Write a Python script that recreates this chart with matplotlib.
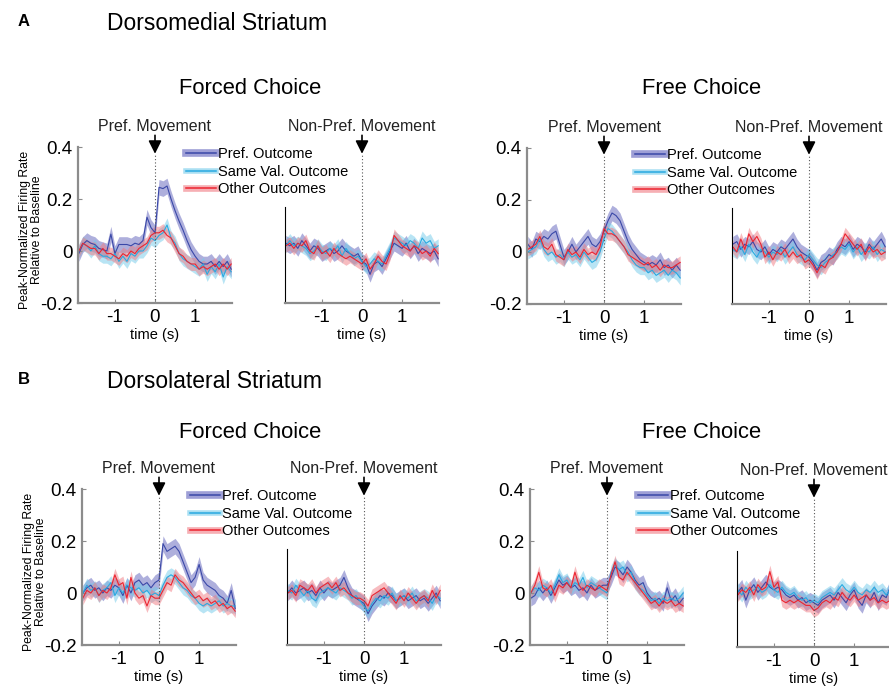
import numpy as np
import matplotlib
matplotlib.use("Agg")
import matplotlib.pyplot as plt
from matplotlib.lines import Line2D

plt.rcParams["font.family"] = ["Liberation Sans", "DejaVu Sans"]

# time bins (s) relative to movement onset
time_s = [-1.9, -1.8, -1.7, -1.6, -1.5, -1.4, -1.3, -1.2, -1.1, -1.0,
          -0.9, -0.8, -0.7, -0.6, -0.5, -0.4, -0.3, -0.2, -0.1, 0.0,
          0.1, 0.2, 0.3, 0.4, 0.5, 0.6, 0.7, 0.8, 0.9, 1.0,
          1.1, 1.2, 1.3, 1.4, 1.5, 1.6, 1.7, 1.8, 1.9]

series_names = ["Pref. Outcome", "Same Val. Outcome", "Other Outcomes"]
line_colors = ["#3a48a8", "#29a9e0", "#ec2430"]
band_colors = ["#5e60bb", "#72cbea", "#f07a82"]
band_sem = [0.03, 0.027, 0.025]
legend_band_lw = [5.5, 4.0, 4.8]

# A - dorsomedial striatum, forced choice, preferred movement
dms_forced_pref_po = [-0.01, 0.025, 0.04, 0.03, 0.025, 0.01, 0.005, 0.0, 0.065, -0.01,
                      0.025, 0.025, 0.025, 0.02, 0.03, 0.025, 0.04, 0.13, 0.09, 0.07,
                      0.245, 0.24, 0.25, 0.2, 0.155, 0.115, 0.08, 0.04, 0.005, -0.02,
                      -0.04, -0.05, -0.05, -0.04, -0.06, -0.04, -0.06, -0.04, -0.07]
dms_forced_pref_sv = [0.0, 0.03, 0.02, 0.0, 0.02, -0.01, -0.02, -0.02, -0.03, -0.01,
                      -0.04, -0.02, -0.04, -0.01, -0.02, 0.0, 0.0, 0.02, 0.05, 0.04,
                      0.06, 0.07, 0.1, 0.05, 0.03, -0.01, -0.03, -0.04, -0.05, -0.06,
                      -0.07, -0.05, -0.09, -0.06, -0.08, -0.05, -0.1, -0.06, -0.08]
dms_forced_pref_oo = [0.0, 0.03, 0.02, 0.01, 0.01, -0.01, 0.01, -0.01, -0.01, -0.02,
                      -0.03, -0.01, -0.02, 0.0, -0.01, 0.01, 0.02, 0.03, 0.06, 0.07,
                      0.07, 0.08, 0.06, 0.05, 0.02, -0.01, -0.02, -0.04, -0.05, -0.05,
                      -0.07, -0.06, -0.07, -0.06, -0.05, -0.07, -0.05, -0.07, -0.05]

# A - forced choice, non-preferred movement
dms_forced_np_po = [0.03, 0.02, 0.03, 0.01, 0.04, 0.02, 0.0, 0.02, 0.01, -0.01,
                    0.0, 0.01, -0.01, 0.0, 0.02, 0.0, -0.01, -0.02, -0.01, -0.04,
                    -0.05, -0.09, -0.05, -0.04, -0.06, -0.03, 0.0, 0.03, 0.02, 0.01,
                    0.03, 0.0, 0.02, -0.01, 0.01, 0.0, -0.01, 0.0, -0.03]
dms_forced_np_sv = [0.02, 0.04, 0.02, 0.03, 0.02, 0.01, -0.01, 0.0, 0.02, 0.0,
                    -0.01, 0.01, 0.0, 0.02, -0.02, 0.01, -0.01, -0.03, -0.02, -0.04,
                    -0.06, -0.05, -0.03, -0.04, -0.05, -0.02, 0.01, 0.05, 0.04, 0.03,
                    0.02, 0.04, 0.03, 0.01, 0.05, 0.03, 0.04, 0.01, 0.02]
dms_forced_np_oo = [0.02, 0.03, 0.01, 0.03, 0.02, 0.04, 0.0, -0.01, 0.02, -0.01,
                    0.0, -0.02, 0.01, -0.01, -0.02, -0.03, -0.02, -0.03, -0.04, -0.05,
                    -0.03, -0.07, -0.05, -0.02, -0.04, -0.05, -0.01, 0.06, 0.04, 0.02,
                    0.01, 0.0, 0.02, 0.01, -0.01, 0.0, -0.02, 0.01, -0.01]

# A - free choice, preferred movement
dms_free_pref_po = [0.03, 0.01, 0.05, 0.04, 0.06, 0.05, 0.07, 0.08, 0.03, -0.02,
                    0.0, 0.03, 0.0, 0.02, 0.04, 0.06, 0.03, 0.02, 0.04, 0.08,
                    0.12, 0.15, 0.14, 0.12, 0.08, 0.04, 0.01, -0.01, -0.03, -0.04,
                    -0.05, -0.04, -0.05, -0.03, -0.06, -0.05, -0.07, -0.05, -0.07]
dms_free_pref_sv = [0.0, 0.01, 0.02, 0.05, 0.01, -0.01, 0.0, -0.02, -0.01, -0.03,
                    0.0, -0.02, -0.01, -0.03, 0.0, -0.02, -0.04, -0.03, 0.0, 0.05,
                    0.09, 0.08, 0.06, 0.04, 0.02, 0.0, -0.03, -0.05, -0.06, -0.06,
                    -0.08, -0.07, -0.09, -0.08, -0.07, -0.09, -0.07, -0.08, -0.1]
dms_free_pref_oo = [0.01, 0.02, 0.03, 0.06, 0.02, 0.01, 0.03, -0.01, -0.02, -0.03,
                    0.01, -0.01, 0.0, -0.02, 0.01, -0.01, 0.0, -0.01, 0.02, 0.09,
                    0.07, 0.07, 0.06, 0.04, 0.02, -0.01, -0.02, -0.03, -0.04, -0.05,
                    -0.04, -0.06, -0.05, -0.07, -0.05, -0.06, -0.06, -0.05, -0.04]

# A - free choice, non-preferred movement
dms_free_np_po = [0.03, 0.04, 0.01, 0.03, 0.02, 0.04, 0.01, 0.0, 0.02, -0.01,
                  0.01, 0.0, 0.02, 0.01, 0.03, 0.05, 0.02, 0.0, -0.01, -0.02,
                  -0.04, -0.07, -0.04, -0.03, -0.01, -0.02, 0.01, 0.03, 0.02, 0.04,
                  0.01, 0.03, 0.02, 0.0, 0.03, 0.01, 0.03, 0.05, 0.02]
dms_free_np_sv = [0.01, 0.0, 0.02, -0.01, 0.03, 0.0, -0.02, 0.01, 0.0, -0.02,
                  0.0, -0.01, 0.01, -0.02, 0.0, 0.02, -0.01, -0.02, -0.03, -0.01,
                  -0.03, -0.05, -0.06, -0.04, -0.03, -0.01, 0.0, 0.02, 0.01, 0.03,
                  0.0, 0.02, -0.01, 0.01, 0.0, 0.02, -0.01, 0.01, 0.0]
dms_free_np_oo = [0.02, 0.0, 0.05, 0.01, 0.07, 0.04, 0.06, 0.03, -0.02, 0.0,
                  -0.03, 0.0, -0.01, 0.01, -0.02, 0.0, -0.02, -0.01, -0.04, -0.03,
                  -0.05, -0.08, -0.05, -0.06, -0.03, -0.02, 0.0, 0.03, 0.07, 0.05,
                  0.03, 0.01, 0.03, -0.01, 0.02, 0.0, 0.01, -0.01, 0.0]

# B - dorsolateral striatum, forced choice, preferred movement
dls_forced_pref_po = [0.0, 0.02, 0.03, 0.01, 0.02, 0.0, 0.02, 0.01, 0.03, 0.02,
                      -0.01, 0.03, 0.0, 0.04, 0.05, 0.03, 0.04, 0.02, 0.04, 0.05,
                      0.19, 0.16, 0.17, 0.18, 0.16, 0.12, 0.08, 0.04, 0.06, 0.11,
                      0.05, 0.03, 0.02, 0.01, -0.01, -0.02, -0.04, 0.01, -0.06]
dls_forced_pref_sv = [0.0, 0.03, 0.01, 0.02, -0.01, 0.01, 0.02, 0.04, -0.01, 0.02,
                      0.0, 0.03, 0.02, 0.01, 0.02, 0.0, 0.01, -0.01, 0.0, -0.01,
                      0.03, 0.06, 0.07, 0.06, 0.04, 0.02, 0.01, -0.01, -0.02, -0.04,
                      -0.05, -0.04, -0.05, -0.04, -0.03, -0.05, -0.04, -0.05, -0.05]
dls_forced_pref_oo = [-0.02, 0.01, 0.0, 0.02, -0.01, 0.01, 0.0, 0.02, 0.07, 0.03,
                      0.04, -0.02, 0.06, 0.0, -0.02, -0.01, -0.05, -0.01, -0.02, -0.02,
                      0.01, 0.04, 0.03, 0.07, 0.05, 0.04, 0.02, 0.0, -0.02, -0.01,
                      -0.03, -0.02, -0.04, -0.03, -0.05, -0.04, -0.06, -0.05, -0.07]

# B - forced choice, non-preferred movement
dls_forced_np_po = [0.0, 0.02, 0.0, 0.01, 0.02, 0.0, 0.01, -0.01, 0.02, 0.0,
                    0.02, 0.01, 0.02, 0.03, 0.06, 0.02, -0.01, -0.02, -0.03, -0.04,
                    -0.08, -0.05, -0.03, -0.01, -0.02, 0.0, -0.01, -0.03, -0.02, -0.01,
                    -0.03, -0.02, -0.01, -0.03, -0.02, -0.04, -0.02, 0.0, -0.03]
dls_forced_np_sv = [0.01, 0.0, 0.03, 0.01, -0.01, 0.01, -0.02, -0.03, 0.0, 0.01,
                    0.02, 0.01, 0.0, 0.02, 0.01, 0.0, -0.02, -0.01, -0.03, -0.05,
                    -0.07, -0.04, -0.02, -0.03, -0.01, -0.02, 0.0, -0.03, -0.02, -0.01,
                    -0.02, 0.0, -0.03, -0.02, -0.01, -0.02, -0.04, -0.01, -0.02]
dls_forced_np_oo = [0.0, 0.01, -0.01, 0.03, 0.02, 0.01, 0.03, 0.0, 0.02, 0.03,
                    0.04, 0.02, 0.04, 0.01, 0.02, 0.0, -0.01, -0.02, -0.02, -0.03,
                    -0.05, -0.01, 0.0, 0.01, 0.02, 0.0, -0.02, -0.04, -0.01, -0.03,
                    0.0, -0.02, -0.04, -0.02, -0.01, -0.03, 0.01, -0.02, 0.01]

# B - free choice, preferred movement
dls_free_pref_po = [-0.02, -0.01, 0.02, 0.0, 0.02, -0.01, 0.02, 0.05, 0.03, 0.04,
                    0.02, 0.03, 0.01, 0.02, 0.0, 0.03, 0.01, 0.02, 0.03, 0.03,
                    0.06, 0.1, 0.09, 0.07, 0.1, 0.08, 0.05, 0.03, 0.04, 0.0,
                    -0.02, -0.03, -0.02, -0.04, 0.02, -0.03, -0.01, -0.04, -0.02]
dls_free_pref_sv = [0.0, 0.02, 0.01, 0.03, 0.02, 0.0, 0.03, 0.07, 0.04, 0.05,
                    0.02, 0.04, 0.03, 0.06, 0.02, 0.04, 0.03, 0.02, 0.01, 0.0,
                    0.08, 0.11, 0.09, 0.1, 0.07, 0.08, 0.04, 0.02, 0.01, -0.01,
                    -0.03, -0.02, -0.04, -0.02, -0.03, -0.02, -0.03, -0.02, 0.0]
dls_free_pref_oo = [0.0, 0.03, 0.08, 0.02, 0.01, 0.03, -0.01, 0.03, 0.02, 0.04,
                    0.02, 0.08, 0.03, 0.01, 0.03, 0.02, 0.01, 0.03, 0.02, 0.01,
                    0.07, 0.12, 0.06, 0.05, 0.08, 0.06, 0.04, 0.02, 0.0, -0.02,
                    -0.04, -0.03, -0.05, -0.03, -0.04, -0.03, -0.05, -0.04, -0.05]

# B - free choice, non-preferred movement
dls_free_np_po = [0.01, 0.03, -0.02, 0.02, 0.04, 0.01, 0.03, 0.05, 0.03, 0.02,
                  0.03, 0.02, 0.0, -0.01, 0.0, -0.02, -0.01, -0.03, -0.02, -0.03,
                  -0.04, -0.02, -0.01, 0.0, -0.02, 0.01, -0.01, -0.03, 0.0, 0.02,
                  -0.02, -0.04, 0.0, -0.02, 0.01, -0.03, 0.0, -0.01, 0.03]
dls_free_np_sv = [0.02, 0.0, 0.03, 0.01, 0.02, 0.03, 0.01, 0.02, 0.04, 0.02,
                  0.01, 0.03, 0.01, 0.0, 0.01, -0.01, -0.02, -0.01, -0.03, -0.02,
                  -0.03, -0.01, 0.0, 0.01, 0.0, 0.02, 0.04, 0.02, 0.01, 0.03,
                  0.01, 0.0, 0.02, 0.01, 0.03, 0.01, 0.02, 0.0, 0.02]
dls_free_np_oo = [0.0, 0.02, 0.01, 0.03, 0.0, 0.04, 0.02, 0.03, 0.09, 0.03,
                  0.05, -0.02, -0.03, -0.02, -0.03, -0.02, -0.03, -0.04, -0.04, -0.06,
                  -0.05, -0.03, -0.02, -0.03, -0.01, -0.02, 0.01, -0.01, -0.02, 0.0,
                  -0.02, -0.01, 0.0, -0.02, -0.01, -0.03, -0.02, -0.03, -0.02]

y_ticks = [-0.2, 0, 0.2, 0.4]
y_tick_labels = ["-0.2", "0", "0.2", "0.4"]
x_ticks = [-1, 0, 1]
x_tick_labels = ["-1", "0", "1"]

W, H = 889, 688
fig = plt.figure(figsize=(W / 100, H / 100), dpi=100)

# (left px of axes, bottom px of axes, is preferred-movement panel, data)
panels = [
    (78, 303, True, [dms_forced_pref_po, dms_forced_pref_sv, dms_forced_pref_oo]),
    (285, 303, False, [dms_forced_np_po, dms_forced_np_sv, dms_forced_np_oo]),
    (527, 304, True, [dms_free_pref_po, dms_free_pref_sv, dms_free_pref_oo]),
    (732, 304, False, [dms_free_np_po, dms_free_np_sv, dms_free_np_oo]),
    (82, 645, True, [dls_forced_pref_po, dls_forced_pref_sv, dls_forced_pref_oo]),
    (287, 645, False, [dls_forced_np_po, dls_forced_np_sv, dls_forced_np_oo]),
    (530, 645, True, [dls_free_pref_po, dls_free_pref_sv, dls_free_pref_oo]),
    (737, 647, False, [dls_free_np_po, dls_free_np_sv, dls_free_np_oo]),
]

ax_w, ax_h = 154, 156
t = np.array(time_s)
gray = "#8c8c8c"

for i, (left, bottom, pref, data) in enumerate(panels):
    ax = fig.add_axes([left / W, 1 - bottom / H, ax_w / W, ax_h / H])
    ax.patch.set_visible(False)
    ax.set_zorder(2 if pref else 1)
    for vals, bc, sem in zip(data, band_colors, band_sem):
        v = np.array(vals)
        ax.fill_between(t, v - sem, v + sem, color=bc, alpha=0.5, lw=0)
    for vals, lc in zip(data, line_colors):
        ax.plot(t, vals, color=lc, lw=0.8)

    ax.set_xlim(-1.92, 1.92)
    ax.set_ylim(-0.2, 0.4)
    for s in ["top", "right"]:
        ax.spines[s].set_visible(False)
    ax.spines["bottom"].set_color(gray)
    ax.spines["bottom"].set_linewidth(1.6)
    ax.set_xticks(x_ticks)
    ax.set_xticklabels(x_tick_labels, fontsize=13.5)
    ax.tick_params(axis="both", direction="in", length=3, color=gray, pad=4)
    ax.set_xlabel("time (s)", fontsize=10.5, labelpad=2)

    if pref:
        ax.spines["left"].set_color(gray)
        ax.spines["left"].set_linewidth(1.6)
        ax.set_yticks(y_ticks)
        ax.set_yticklabels(y_tick_labels, fontsize=13.5)
        handles = [(Line2D([], [], color=bc, lw=blw, alpha=0.6),
                    Line2D([], [], color=lc, lw=1.1))
                   for lc, bc, blw in zip(line_colors, band_colors, legend_band_lw)]
        ax.legend(handles, series_names, loc="upper left",
                  bbox_to_anchor=(0.70, 1.0), frameon=False, fontsize=10.5,
                  handlelength=2.1, handletextpad=0.1, labelspacing=0.25,
                  borderpad=0, borderaxespad=0)
        title = "Pref. Movement"
    else:
        ax.spines["left"].set_color("black")
        ax.spines["left"].set_linewidth(0.8)
        ax.spines["left"].set_bounds(-0.2, 0.17)
        ax.set_yticks([])
        title = "Non-Pref. Movement"

    ax.plot([0, 0], [-0.2, 0.375], ls=(0, (1, 2)), color="#555555", lw=0.8)
    ax.annotate("", xy=(0, 0.374), xytext=(0, 0.445),
                arrowprops=dict(arrowstyle="-|>,head_width=0.3,head_length=0.6",
                                color="black", lw=1.2, mutation_scale=13,
                                shrinkA=0, shrinkB=0),
                annotation_clip=False)
    ax.text(0, 0.478, title, ha="center", va="center", fontsize=11.5,
            color="#222222")

    if i in (0, 4):
        ax.set_ylabel("Peak-Normalized Firing Rate\nRelative to Baseline",
                      fontsize=8.8, linespacing=1.0)
        ax.yaxis.set_label_coords(-0.225, 0.47)

# headers
fig.text(18 / W, 1 - 22 / H, "A", fontsize=12, fontweight="bold", va="center")
fig.text(107 / W, 1 - 24 / H, "Dorsomedial Striatum", fontsize=16.5, va="center")
fig.text(18 / W, 1 - 380 / H, "B", fontsize=12, fontweight="bold", va="center")
fig.text(107 / W, 1 - 381 / H, "Dorsolateral Striatum", fontsize=16.5, va="center")
for y in (88, 432):
    fig.text(250 / W, 1 - y / H, "Forced Choice", fontsize=15.8, ha="center", va="center")
    fig.text(702 / W, 1 - y / H, "Free Choice", fontsize=15.8, ha="center", va="center")

fig.savefig("out.png", dpi=100)
